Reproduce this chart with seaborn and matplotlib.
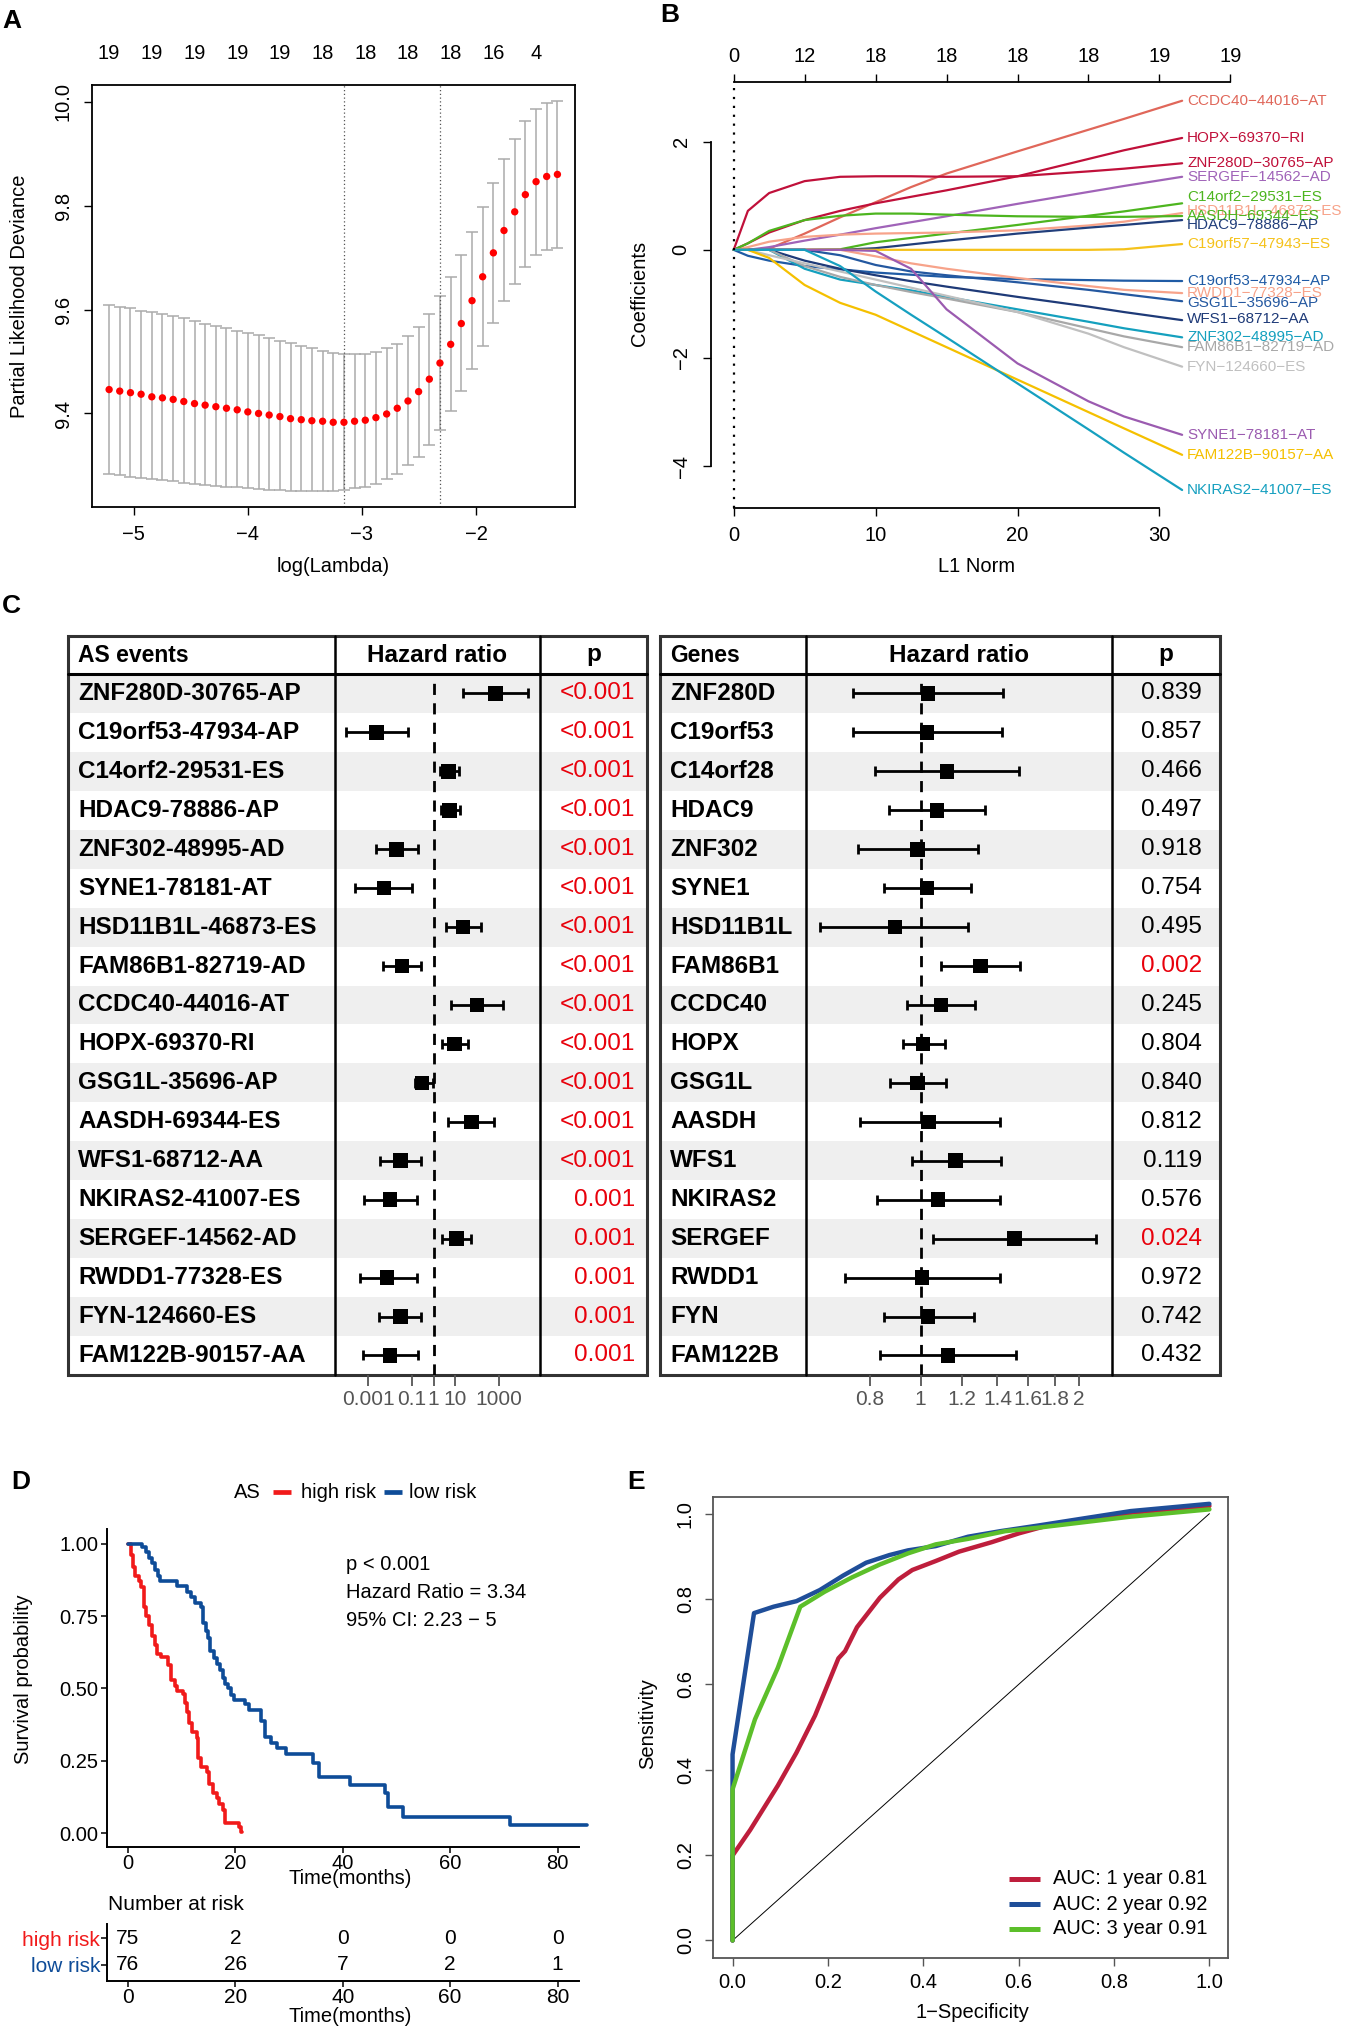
import numpy as np
import pandas as pd
import matplotlib
matplotlib.use("Agg")
import matplotlib.pyplot as plt
import seaborn as sns
from matplotlib.patches import Rectangle

W, H = 1348, 2028

# ---------------- A: cross-validation curve ----------------
log_lambda = [-5.215, -5.122, -5.028, -4.935, -4.841, -4.748, -4.654, -4.561, -4.467, -4.374,
              -4.280, -4.187, -4.093, -4.000, -3.906, -3.813, -3.719, -3.626, -3.532, -3.439,
              -3.345, -3.252, -3.158, -3.065, -2.971, -2.878, -2.784, -2.691, -2.597, -2.504,
              -2.410, -2.317, -2.223, -2.130, -2.036, -1.943, -1.849, -1.756, -1.662, -1.569,
              -1.475, -1.382, -1.288]
cv_mean = [9.446, 9.443, 9.440, 9.437, 9.432, 9.430, 9.427, 9.423, 9.419, 9.416,
           9.413, 9.410, 9.407, 9.403, 9.400, 9.397, 9.394, 9.390, 9.388, 9.386,
           9.385, 9.383, 9.383, 9.385, 9.387, 9.392, 9.399, 9.410, 9.424, 9.442,
           9.466, 9.497, 9.533, 9.573, 9.617, 9.663, 9.709, 9.752, 9.788, 9.821,
           9.846, 9.856, 9.860]
cv_up = [9.608, 9.605, 9.602, 9.598, 9.595, 9.591, 9.587, 9.583, 9.578, 9.573,
         9.568, 9.564, 9.559, 9.555, 9.550, 9.545, 9.540, 9.535, 9.529, 9.525,
         9.521, 9.517, 9.514, 9.514, 9.515, 9.519, 9.525, 9.534, 9.549, 9.567,
         9.592, 9.626, 9.663, 9.704, 9.749, 9.797, 9.844, 9.889, 9.928, 9.962,
         9.985, 9.998, 10.002]
cv_lo = [9.284, 9.281, 9.278, 9.276, 9.274, 9.272, 9.270, 9.267, 9.265, 9.263,
         9.261, 9.259, 9.258, 9.256, 9.254, 9.253, 9.252, 9.251, 9.250, 9.250,
         9.250, 9.251, 9.253, 9.256, 9.259, 9.265, 9.274, 9.284, 9.300, 9.317,
         9.340, 9.369, 9.405, 9.443, 9.485, 9.530, 9.575, 9.616, 9.650, 9.682,
         9.704, 9.715, 9.719]
nzero_top = ["19", "19", "19", "19", "19", "18", "18", "18", "18", "16", "4"]
lambda_min, lambda_1se = -3.158, -2.317

# ---------------- B: coefficient paths ----------------
l1_knots = [0, 1, 2.5, 5, 7.5, 10, 12.5, 15, 20, 25, 27.5, 31.6]
b_events = ["CCDC40-44016-AT", "HOPX-69370-RI", "ZNF280D-30765-AP", "SERGEF-14562-AD",
            "C14orf2-29531-ES", "HSD11B1L-46873-ES", "AASDH-69344-ES", "HDAC9-78886-AP",
            "C19orf57-47943-ES", "C19orf53-47934-AP", "RWDD1-77328-ES", "GSG1L-35696-AP",
            "WFS1-68712-AA", "ZNF302-48995-AD", "FAM86B1-82719-AD", "FYN-124660-ES",
            "SYNE1-78181-AT", "FAM122B-90157-AA", "NKIRAS2-41007-ES"]
coef_paths = [
    [0, 0, 0.02, 0.30, 0.60, 0.88, 1.16, 1.41, 1.82, 2.22, 2.42, 2.756],
    [0, 0.12, 0.32, 0.55, 0.72, 0.86, 0.98, 1.10, 1.36, 1.68, 1.84, 2.068],
    [0, 0.72, 1.05, 1.27, 1.35, 1.36, 1.36, 1.35, 1.36, 1.45, 1.50, 1.60],
    [0, 0, 0.05, 0.17, 0.28, 0.40, 0.51, 0.62, 0.85, 1.07, 1.18, 1.35],
    [0, 0, 0, 0, 0.01, 0.14, 0.22, 0.30, 0.46, 0.63, 0.71, 0.86],
    [0, 0.05, 0.15, 0.24, 0.28, 0.30, 0.31, 0.32, 0.36, 0.45, 0.52, 0.68],
    [0, 0.12, 0.35, 0.55, 0.63, 0.67, 0.67, 0.65, 0.62, 0.61, 0.61, 0.625],
    [0, 0, 0, 0, 0, 0.03, 0.10, 0.17, 0.30, 0.41, 0.46, 0.55],
    [0, 0, 0, 0, 0, 0, 0, 0, 0, 0, 0.01, 0.107],
    [0, -0.11, -0.20, -0.30, -0.36, -0.42, -0.46, -0.50, -0.54, -0.56, -0.57, -0.577],
    [0, 0, 0, 0, 0, -0.12, -0.25, -0.35, -0.52, -0.67, -0.74, -0.80],
    [0, 0, 0, 0, -0.10, -0.28, -0.40, -0.47, -0.60, -0.74, -0.82, -0.95],
    [0, 0, 0, -0.20, -0.35, -0.47, -0.58, -0.68, -0.87, -1.05, -1.15, -1.30],
    [0, 0, 0, -0.35, -0.55, -0.65, -0.75, -0.87, -1.10, -1.33, -1.45, -1.618],
    [0, 0, 0, -0.30, -0.50, -0.65, -0.78, -0.90, -1.15, -1.45, -1.60, -1.80],
    [0, 0, -0.10, -0.25, -0.40, -0.55, -0.70, -0.85, -1.15, -1.55, -1.80, -2.16],
    [0, 0, 0, 0, 0, -0.02, -0.35, -1.10, -2.10, -2.80, -3.08, -3.42],
    [0, 0, -0.15, -0.65, -0.98, -1.20, -1.50, -1.80, -2.40, -3.00, -3.30, -3.79],
    [0, 0, 0, 0, -0.30, -0.77, -1.20, -1.62, -2.47, -3.32, -3.75, -4.44],
]
b_label_y = [2.757, 2.067, 1.61, 1.352, 0.973, 0.723, 0.625, 0.459, 0.107, -0.577, -0.80,
             -0.978, -1.285, -1.618, -1.80, -2.16, -3.42, -3.79, -4.44]
b_colors = ["#E0675A", "#C0103A", "#C0103A", "#A063B8", "#4DB51F", "#F7A38A", "#4DB51F",
            "#213E7B", "#F5C21B", "#1F5BA5", "#F7A38A", "#2458A0", "#1E3A78", "#14A0BE",
            "#A8A8A8", "#C0C0C0", "#9B5BB0", "#F5C000", "#16A0C0"]
top_l1_ticks = [0, 5, 10, 15, 20, 25, 30, 35]
top_l1_labels = ["0", "12", "18", "18", "18", "18", "19", "19"]

# ---------------- C: forest tables ----------------
as_events = ["ZNF280D-30765-AP", "C19orf53-47934-AP", "C14orf2-29531-ES", "HDAC9-78886-AP",
             "ZNF302-48995-AD", "SYNE1-78181-AT", "HSD11B1L-46873-ES", "FAM86B1-82719-AD",
             "CCDC40-44016-AT", "HOPX-69370-RI", "GSG1L-35696-AP", "AASDH-69344-ES",
             "WFS1-68712-AA", "NKIRAS2-41007-ES", "SERGEF-14562-AD", "RWDD1-77328-ES",
             "FYN-124660-ES", "FAM122B-90157-AA"]
as_hr = [725, 0.00245, 5.0, 5.4, 0.02, 0.00525, 22.4, 0.0355, 98,
         9.3, 0.29, 55, 0.031, 0.0102, 11.5, 0.0074, 0.031, 0.0102]
as_lo = [22.4, 0.0000955, 1.95, 2.24, 0.00224, 0.00026, 3.8, 0.0048, 6.5,
         2.45, 0.148, 4.8, 0.0035, 0.00065, 2.45, 0.00042, 0.0031, 0.00059]
as_hi = [22400, 0.0692, 14.5, 16.6, 0.19, 0.107, 155, 0.263, 1550,
         39, 0.91, 630, 0.263, 0.17, 55, 0.17, 0.263, 0.19]
as_p = ["<0.001"] * 13 + ["0.001"] * 5

genes = ["ZNF280D", "C19orf53", "C14orf28", "HDAC9", "ZNF302", "SYNE1", "HSD11B1L", "FAM86B1",
         "CCDC40", "HOPX", "GSG1L", "AASDH", "WFS1", "NKIRAS2", "SERGEF", "RWDD1", "FYN", "FAM122B"]
gene_hr = [1.032, 1.028, 1.122, 1.074, 0.986, 1.028, 0.893, 1.301, 1.093,
           1.010, 0.986, 1.036, 1.165, 1.078, 1.509, 1.006, 1.032, 1.128]
gene_lo = [0.744, 0.744, 0.820, 0.871, 0.759, 0.853, 0.644, 1.095, 0.942,
           0.924, 0.876, 0.765, 0.961, 0.825, 1.057, 0.718, 0.850, 0.837]
gene_hi = [1.436, 1.428, 1.539, 1.327, 1.283, 1.246, 1.233, 1.549, 1.270,
           1.113, 1.117, 1.414, 1.422, 1.414, 2.157, 1.414, 1.263, 1.518]
gene_p = ["0.839", "0.857", "0.466", "0.497", "0.918", "0.754", "0.495", "0.002", "0.245",
          "0.804", "0.840", "0.812", "0.119", "0.576", "0.024", "0.972", "0.742", "0.432"]

# ---------------- D: Kaplan-Meier ----------------
high_time = [0, 0.5, 0.9, 1.3, 2.0, 2.5, 3.0, 3.3, 3.9, 4.5, 5.0, 5.5, 6.1, 7.5, 8.0, 8.8, 9.1,
             10.2, 10.6, 11.0, 11.4, 12.0, 12.9, 13.1, 13.6, 14.8, 15.1, 15.9, 16.6, 17.0, 17.7,
             18.1, 20.7, 21.1, 21.3]
high_surv = [1.0, 0.96, 0.92, 0.89, 0.87, 0.85, 0.78, 0.75, 0.72, 0.68, 0.65, 0.62, 0.61, 0.58,
             0.53, 0.51, 0.49, 0.48, 0.45, 0.42, 0.38, 0.35, 0.33, 0.26, 0.23, 0.21, 0.17, 0.14,
             0.12, 0.10, 0.08, 0.035, 0.02, 0.005, 0.005]
low_time = [0, 2.54, 3.29, 3.89, 4.49, 5.01, 5.54, 5.99, 9.13, 11.0, 11.75, 12.5, 13.6, 14.0,
            14.5, 14.97, 15.34, 16.0, 16.6, 17.2, 17.74, 18.1, 18.7, 19.24, 19.76, 21.86, 22.6,
            24.85, 25.6, 26.7, 27.7, 29.5, 34.4, 35.5, 41.3, 47.9, 48.4, 51.2, 71.1, 85.5]
low_surv = [1.0, 0.99, 0.97, 0.95, 0.935, 0.91, 0.89, 0.87, 0.855, 0.835, 0.815, 0.795, 0.78,
            0.725, 0.70, 0.675, 0.63, 0.605, 0.585, 0.563, 0.535, 0.515, 0.50, 0.478, 0.461,
            0.446, 0.427, 0.389, 0.331, 0.312, 0.293, 0.274, 0.242, 0.194, 0.166, 0.14, 0.089,
            0.057, 0.028, 0.028]
risk_times = [0, 20, 40, 60, 80]
risk_high = [75, 2, 0, 0, 0]
risk_low = [76, 26, 7, 2, 1]

# ---------------- E: ROC ----------------
roc1_fpr = [0, 0, 0.037, 0.095, 0.134, 0.173, 0.222, 0.236, 0.261, 0.309, 0.348, 0.377,
            0.426, 0.475, 0.543, 0.601, 0.66, 0.737, 0.835, 1.0]
roc1_tpr = [0, 0.199, 0.259, 0.363, 0.44, 0.527, 0.661, 0.678, 0.734, 0.803, 0.846, 0.868,
            0.889, 0.911, 0.933, 0.954, 0.972, 0.984, 1.002, 1.018]
roc2_fpr = [0, 0, 0.045, 0.086, 0.134, 0.183, 0.232, 0.28, 0.329, 0.368, 0.426, 0.494,
            0.562, 0.64, 0.737, 0.835, 1.0]
roc2_tpr = [0, 0.436, 0.767, 0.782, 0.795, 0.821, 0.855, 0.885, 0.903, 0.914, 0.924, 0.946,
            0.959, 0.972, 0.989, 1.006, 1.023]
roc3_fpr = [0, 0, 0.047, 0.095, 0.142, 0.193, 0.251, 0.309, 0.368, 0.426, 0.494, 0.572,
            0.64, 0.737, 0.835, 1.0]
roc3_tpr = [0, 0.354, 0.518, 0.639, 0.782, 0.817, 0.851, 0.881, 0.907, 0.928, 0.941, 0.959,
            0.967, 0.98, 0.993, 1.01]
roc_labels = ["AUC: 1 year 0.81", "AUC: 2 year 0.92", "AUC: 3 year 0.91"]
roc_colors = ["#BE1E3C", "#1F4E99", "#5CBF2A"]


sns.set_theme(style="white", rc={
    "axes.edgecolor": "black", "text.color": "black", "xtick.color": "black",
    "ytick.color": "black", "axes.labelcolor": "black",
    "xtick.bottom": True, "ytick.left": True,
})
plt.rcParams["font.family"] = ["Liberation Sans", "DejaVu Sans"]
plt.rcParams["axes.unicode_minus"] = True


def rect(x0, y0, x1, y1):
    return [x0 / W, 1 - y1 / H, (x1 - x0) / W, (y1 - y0) / H]


fig = plt.figure(figsize=(W / 100, H / 100), dpi=100)
ov = fig.add_axes([0, 0, 1, 1])
ov.set_xlim(0, W)
ov.set_ylim(H, 0)
ov.axis("off")

for lab, x, y in [("A", 2, 21), ("B", 660, 15), ("C", 2, 606), ("D", 11, 1482), ("E", 627, 1482)]:
    ov.text(x, y, lab, fontsize=19, fontweight="bold", ha="left", va="center")

# ---- panel A ----
axA = fig.add_axes(rect(92, 85, 575, 507))
lam = np.array(log_lambda)
m = np.array(cv_mean)
axA.errorbar(lam, m, yerr=[m - np.array(cv_lo), np.array(cv_up) - m], fmt="none",
             ecolor="#ababab", elinewidth=1.1, capsize=4, capthick=1.1, zorder=1)
sns.scatterplot(x=lam, y=m, color="red", s=28, edgecolor="none", ax=axA, zorder=3)
for v in (lambda_min, lambda_1se):
    axA.axvline(v, color="#555555", lw=0.9, ls=(0, (1, 2)))
axA.set_xlim(-5.365, -1.134)
axA.set_ylim(9.220, 10.032)
axA.set_xticks([-5, -4, -3, -2])
axA.set_yticks([9.4, 9.6, 9.8, 10.0])
axA.set_yticklabels(["9.4", "9.6", "9.8", "10.0"], rotation=90, va="center")
axA.tick_params(axis="both", length=6, width=1, labelsize=14.5)
axA.tick_params(axis="x", pad=7)
axA.tick_params(axis="y", pad=8)
for s in axA.spines.values():
    s.set_linewidth(1.3)
for i, lab in zip(range(0, 43, 4), nzero_top):
    axA.text(log_lambda[i], 1 + (85 - 54) / 422, lab, transform=axA.get_xaxis_transform(),
             ha="center", va="center", fontsize=14.5)
ov.text(333, 567, "log(Lambda)", ha="center", va="center", fontsize=14.5)
ov.text(20, 296, "Partial Likelihood Deviance", ha="center", va="center", rotation=90, fontsize=14.5)

# ---- panel B ----
axB = fig.add_axes(rect(711.4, 82.4, 1230.8, 507.7))
axB.set_facecolor("none")
dfB = pd.DataFrame([(e, l, c) for e, path in zip(b_events, coef_paths)
                    for l, c in zip(l1_knots, path)], columns=["event", "l1", "coef"])
sns.lineplot(data=dfB, x="l1", y="coef", hue="event", palette=dict(zip(b_events, b_colors)),
             estimator=None, sort=False, legend=False, lw=1.6, ax=axB)
axB.axvline(0, color="black", lw=1.6, ls=(0, (1, 3)))
for e, ly, col in zip(b_events, b_label_y, b_colors):
    axB.text(31.95, ly, e.replace("-", "\u2212"), color=col, fontsize=11,
             ha="left", va="center", clip_on=False)
axB.set_xlim(-1.57, 35.03)
axB.set_ylim(-4.767, 3.095)
axB.spines["right"].set_visible(False)
axB.spines["top"].set_visible(False)
axB.spines["left"].set_bounds(-4, 2)
axB.spines["bottom"].set_bounds(0, 30)
axB.set_xticks([0, 10, 20, 30])
axB.set_yticks([-4, -2, 0, 2])
axB.set_yticklabels(["\u22124", "\u22122", "0", "2"], rotation=90, va="center")
axB.tick_params(axis="both", length=6, width=1, labelsize=14.5)
axB.tick_params(axis="x", pad=7)
axB.tick_params(axis="y", pad=9)
axB.set_xlabel("")
axB.set_ylabel("")
for s in axB.spines.values():
    s.set_linewidth(1.3)
secB = axB.secondary_xaxis("top")
secB.set_xticks(top_l1_ticks, labels=top_l1_labels)
secB.spines["top"].set_bounds(0, 35)
secB.spines["top"].set_linewidth(1.3)
secB.tick_params(direction="out", length=6, width=1, labelsize=14.5, pad=6)
ov.text(977, 567, "L1 Norm", ha="center", va="center", fontsize=14.5)
ov.text(639, 293, "Coefficients", ha="center", va="center", rotation=90, fontsize=14.5)

# ---- panel C ----
y_top, y_hdr, row_h = 636, 674, 38.94
y_bot = y_hdr + 18 * row_h


def draw_table(x0, c1, c2, x1, head, names, hr, lo, hi, pvals, pcol_x, xlim, ticks, ticklabels):
    for i in range(18):
        if i % 2 == 0:
            ov.add_patch(Rectangle((x0, y_hdr + i * row_h), x1 - x0, row_h,
                                   facecolor="#EFEFEF", edgecolor="none", zorder=0))
    ov.add_patch(Rectangle((x0, y_top), x1 - x0, y_bot - y_top, facecolor="none",
                           edgecolor="#333333", lw=2.2, zorder=2))
    ov.plot([x0, x1], [y_hdr, y_hdr], color="black", lw=2.2, zorder=2)
    for xc in (c1, c2):
        ov.plot([xc, xc], [y_top, y_bot], color="black", lw=1.8, zorder=2)
    ov.text(x0 + 10, (y_top + y_hdr) / 2, head, fontsize=16.5, fontweight="bold",
            ha="left", va="center")
    ov.text((c1 + c2) / 2, (y_top + y_hdr) / 2, "Hazard ratio", fontsize=17.5,
            fontweight="bold", ha="center", va="center")
    ov.text((c2 + x1) / 2, (y_top + y_hdr) / 2, "p", fontsize=17.5, fontweight="bold",
            ha="center", va="center")
    for i, (n, p) in enumerate(zip(names, pvals)):
        yc = y_hdr + (i + 0.5) * row_h
        ov.text(x0 + 10, yc, n, fontsize=17.5, fontweight="bold", ha="left", va="center")
        pc = "#E8000B" if float(p.strip("<")) < 0.05 else "black"
        ov.text(pcol_x, yc, p, fontsize=17.5, color=pc, ha="right", va="center")

    ax = fig.add_axes(rect(c1, y_hdr, c2, y_bot))
    ax.set_facecolor("none")
    rows = np.arange(18) + 0.5
    hr, lo, hi = np.array(hr), np.array(lo), np.array(hi)
    ax.axvline(1, color="black", lw=2, ls=(0, (4, 3)), zorder=1)
    ax.errorbar(hr, rows, xerr=[hr - lo, hi - hr], fmt="none", ecolor="black",
                elinewidth=2, capsize=3.5, capthick=2, zorder=2)
    sns.scatterplot(x=hr, y=rows, marker="s", s=110, color="black", edgecolor="none",
                    ax=ax, zorder=3)
    ax.set_xscale("log")
    ax.set_xlim(*xlim)
    ax.set_ylim(18, 0)
    ax.set_yticks([])
    ax.set_xticks(ticks)
    ax.set_xticklabels(ticklabels)
    ax.minorticks_off()
    ax.tick_params(axis="x", length=8, width=1.3, color="#555555", labelcolor="#555555",
                   labelsize=15, pad=3)
    for s in ax.spines.values():
        s.set_visible(False)


draw_table(68, 334.6, 540, 647, "AS events", as_events, as_hr, as_lo, as_hi, as_p, 635.5,
           (10 ** -4.545, 10 ** 4.894), [0.001, 0.1, 1, 10, 1000],
           ["0.001", "0.1", "1", "10", "1000"])
draw_table(660.3, 805.7, 1111.8, 1220, "Genes", genes, gene_hr, gene_lo, gene_hi, gene_p, 1202,
           (10 ** -0.219, 10 ** 0.364), [0.8, 1, 1.2, 1.4, 1.6, 1.8, 2],
           ["0.8", "1", "1.2", "1.4", "1.6", "1.8", "2"])

# ---- panel D ----
red_km, blue_km = "#F11A1A", "#0E4C98"
axD = fig.add_axes(rect(107, 1529, 579, 1847))
axD.set_facecolor("none")
sns.lineplot(x=high_time, y=high_surv, drawstyle="steps-post", color=red_km, lw=2.6,
             estimator=None, sort=False, ax=axD)
sns.lineplot(x=low_time, y=low_surv, drawstyle="steps-post", color=blue_km, lw=2.6,
             estimator=None, sort=False, ax=axD, clip_on=False)
axD.set_xlim(-3.9, 84)
axD.set_ylim(-0.048, 1.051)
axD.set_xticks([0, 20, 40, 60, 80])
axD.set_yticks([0, 0.25, 0.5, 0.75, 1.0])
axD.set_yticklabels(["0.00", "0.25", "0.50", "0.75", "1.00"])
axD.spines["right"].set_visible(False)
axD.spines["top"].set_visible(False)
for s in axD.spines.values():
    s.set_linewidth(1.4)
axD.tick_params(axis="both", length=4, width=1.1, labelsize=14.5, pad=2)
axD.tick_params(axis="x", pad=1)
ov.text(346, 1565, "p < 0.001", fontsize=14.5, ha="left", va="center")
ov.text(346, 1592, "Hazard Ratio = 3.34", fontsize=14.5, ha="left", va="center")
ov.text(346, 1620, "95% CI: 2.23 \u2212 5", fontsize=14.5, ha="left", va="center")
ov.text(350, 1879, "Time(months)", fontsize=14.5, ha="center", va="center")
ov.text(24, 1679, "Survival probability", fontsize=14.5, ha="center", va="center", rotation=90)
ov.text(234, 1492, "AS", fontsize=14.5, ha="left", va="center")
ov.plot([273, 291], [1492, 1492], color=red_km, lw=3.4, solid_capstyle="butt")
ov.text(301, 1492, "high risk", fontsize=14.5, ha="left", va="center")
ov.plot([384, 402], [1492, 1492], color=blue_km, lw=3.4, solid_capstyle="butt")
ov.text(409, 1492, "low risk", fontsize=14.5, ha="left", va="center")

ov.text(108, 1905, "Number at risk", fontsize=15, ha="left", va="center")
axR = fig.add_axes(rect(107, 1924, 579, 1981))
axR.set_facecolor("none")
axR.set_xlim(-3.9, 84)
axR.set_ylim(0, 1)
for t, nh, nl in zip(risk_times, risk_high, risk_low):
    axR.text(t, 0.754, str(nh), fontsize=15, ha="center", va="center")
    axR.text(t, 0.281, str(nl), fontsize=15, ha="center", va="center")
axR.set_xticks(risk_times)
axR.set_yticks([0.281, 0.754])
axR.set_yticklabels(["low risk", "high risk"])
for tl, c in zip(axR.get_yticklabels(), [blue_km, red_km]):
    tl.set_color(c)
axR.spines["right"].set_visible(False)
axR.spines["top"].set_visible(False)
for s in axR.spines.values():
    s.set_linewidth(1.4)
axR.tick_params(axis="both", length=4, width=1.1, labelsize=15, pad=1)
ov.text(350, 2016, "Time(months)", fontsize=14.5, ha="center", va="center")

# ---- panel E ----
axE = fig.add_axes(rect(713, 1497, 1228, 1958))
axE.set_facecolor("none")
axE.plot([0, 1], [0, 1], color="black", lw=0.7)
for fpr, tpr, col in [(roc1_fpr, roc1_tpr, roc_colors[0]), (roc2_fpr, roc2_tpr, roc_colors[1]),
                      (roc3_fpr, roc3_tpr, roc_colors[2])]:
    sns.lineplot(x=fpr, y=tpr, color=col, lw=3.2, estimator=None, sort=False, ax=axE)
axE.set_xlim(-0.041, 1.039)
axE.set_ylim(-0.041, 1.039)
ticksE = [0, 0.2, 0.4, 0.6, 0.8, 1.0]
labsE = ["0.0", "0.2", "0.4", "0.6", "0.8", "1.0"]
axE.set_xticks(ticksE)
axE.set_xticklabels(labsE)
axE.set_yticks(ticksE)
axE.set_yticklabels(labsE, rotation=90, va="center")
for s in axE.spines.values():
    s.set_linewidth(1.3)
    s.set_color("#555555")
axE.tick_params(axis="both", length=6, width=1, color="#555555", labelsize=14.5)
axE.tick_params(axis="x", pad=5)
axE.tick_params(axis="y", pad=7)
for k, (lab, col) in enumerate(zip(roc_labels, roc_colors)):
    yy = 1879 + 25 * k
    axE.plot([1009, 1040], [yy, yy], color=col, lw=3.6, solid_capstyle="butt",
             transform=ov.transData, clip_on=False)
    axE.text(1053, yy, lab, fontsize=14.5, ha="left", va="center", transform=ov.transData)
ov.text(972, 2012, "1\u2212Specificity", fontsize=14.5, ha="center", va="center")
ov.text(648, 1724, "Sensitivity", fontsize=14.5, ha="center", va="center", rotation=90)

fig.savefig("out.png", dpi=100)
